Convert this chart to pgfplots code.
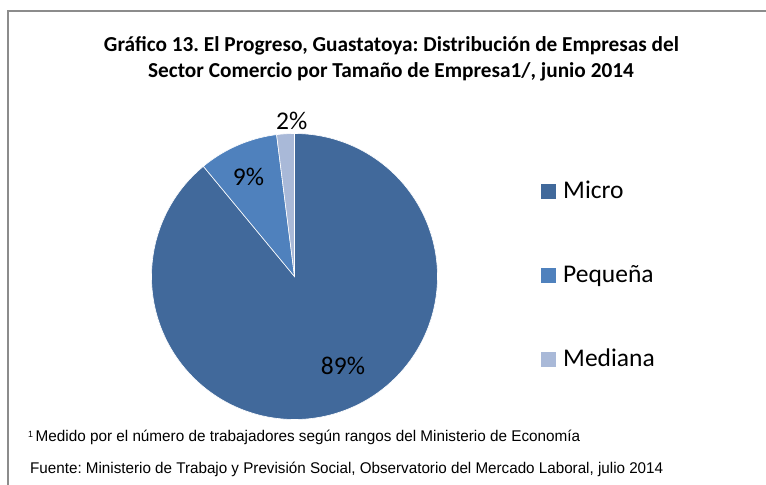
\documentclass[border=0pt]{standalone}
\usepackage{pgfplots}
\usepackage{pgfplotstable}
\usepackage{graphicx}
\usepackage{fontspec}
\setmainfont{Carlito}
\newfontfamily\arial{Liberation Sans}
\pgfplotsset{compat=1.18}
\definecolor{micro}{HTML}{41699B}
\definecolor{pequena}{HTML}{4F81BD}
\definecolor{mediana}{HTML}{A9B9D8}
\definecolor{frame}{HTML}{8C8C8C}
\pgfplotstableread{
cat value
Micro 89
Pequena 9
Mediana 2
}\piedata
\pgfplotstablegetelem{0}{value}\of\piedata \let\vA\pgfplotsretval
\pgfplotstablegetelem{1}{value}\of\piedata \let\vB\pgfplotsretval
\pgfplotstablegetelem{2}{value}\of\piedata \let\vC\pgfplotsretval
\pgfmathsetmacro{\aA}{90-3.6*\vA}
\pgfmathsetmacro{\aB}{\aA-3.6*\vB}
\pgfmathsetmacro{\aC}{\aB-3.6*\vC}
\def\cx{294.5}
\def\cy{276.5}
\def\rr{143}
\frenchspacing
\begin{document}
\begin{tikzpicture}
\useasboundingbox (0,0) rectangle (766bp,485bp);
\begin{scope}
\clip (0,0) rectangle (766bp,485bp);
% chart frame: its right and bottom sides lie outside the picture
\draw[frame, line width=1.4bp] (8bp,474bp) rectangle (820bp,-40bp);
\end{scope}
\begin{axis}[
  at={(0,0)}, anchor=south west,
  scale only axis, width=766bp, height=485bp,
  xmin=0, xmax=766, ymin=0, ymax=485, y dir=reverse,
  hide axis, clip=true,
]
% pie slices
\addplot[fill=micro, draw=white, line width=0.6bp, domain=90:\aA, samples=200]
  ({\cx+\rr*cos(x)},{\cy-\rr*sin(x)}) -- (axis cs:\cx,\cy) -- cycle;
\addplot[fill=pequena, draw=white, line width=0.6bp, domain=\aA:\aB, samples=40]
  ({\cx+\rr*cos(x)},{\cy-\rr*sin(x)}) -- (axis cs:\cx,\cy) -- cycle;
\addplot[fill=mediana, draw=white, line width=0.6bp, domain=\aB:\aC, samples=20]
  ({\cx+\rr*cos(x)},{\cy-\rr*sin(x)}) -- (axis cs:\cx,\cy) -- cycle;
% pie labels
\node[anchor=base, inner sep=0, font=\fontsize{25.5bp}{30bp}\selectfont] at (axis cs:291.7,129) {\vC\%};
\node[anchor=base, inner sep=0, font=\fontsize{25.5bp}{30bp}\selectfont] at (axis cs:248.5,185) {\vB\%};
\node[anchor=base, inner sep=0, font=\fontsize{25.5bp}{30bp}\selectfont] at (axis cs:343,374.3) {\vA\%};
% legend
\fill[micro] (axis cs:541,184) rectangle (axis cs:556,199);
\fill[pequena] (axis cs:541,268) rectangle (axis cs:556,283);
\fill[mediana] (axis cs:541,352) rectangle (axis cs:556,367);
\node[anchor=base west, inner sep=0, font=\fontsize{25.5bp}{30bp}\selectfont] at (axis cs:563,198.7) {Micro};
\node[anchor=base west, inner sep=0, font=\fontsize{25.5bp}{30bp}\selectfont] at (axis cs:563,282.7) {Pequeña};
\node[anchor=base west, inner sep=0, font=\fontsize{25.5bp}{30bp}\selectfont] at (axis cs:563,366.7) {Mediana};
% title
\node[anchor=base, inner sep=0, font=\bfseries\fontsize{21.3bp}{25bp}\selectfont] at (axis cs:391.5,51) {Gráf{}ico 13. El Progreso, Guastatoya: Distribución de Empresas del};
\node[anchor=base, inner sep=0, font=\bfseries\fontsize{21.3bp}{25bp}\selectfont] at (axis cs:391,77) {Sector Comercio por Tamaño de Empresa1/, junio 2014};
% footnotes
\node[anchor=base west, inner sep=0] at (axis cs:28,441.7) {\resizebox{552bp}{\height}{\arial\fontsize{15.5bp}{18bp}\selectfont\raisebox{0.55ex}{\fontsize{9bp}{10bp}\selectfont 1}\,Medido por el número de trabajadores según rangos del Ministerio de Economía}};
\node[anchor=base west, inner sep=0] at (axis cs:30,473.3) {\resizebox{633bp}{\height}{\arial\fontsize{15.5bp}{18bp}\selectfont Fuente: Ministerio de Trabajo y Previsión Social, Observatorio del Mercado Laboral, julio 2014}};
\end{axis}
\end{tikzpicture}
\end{document}
